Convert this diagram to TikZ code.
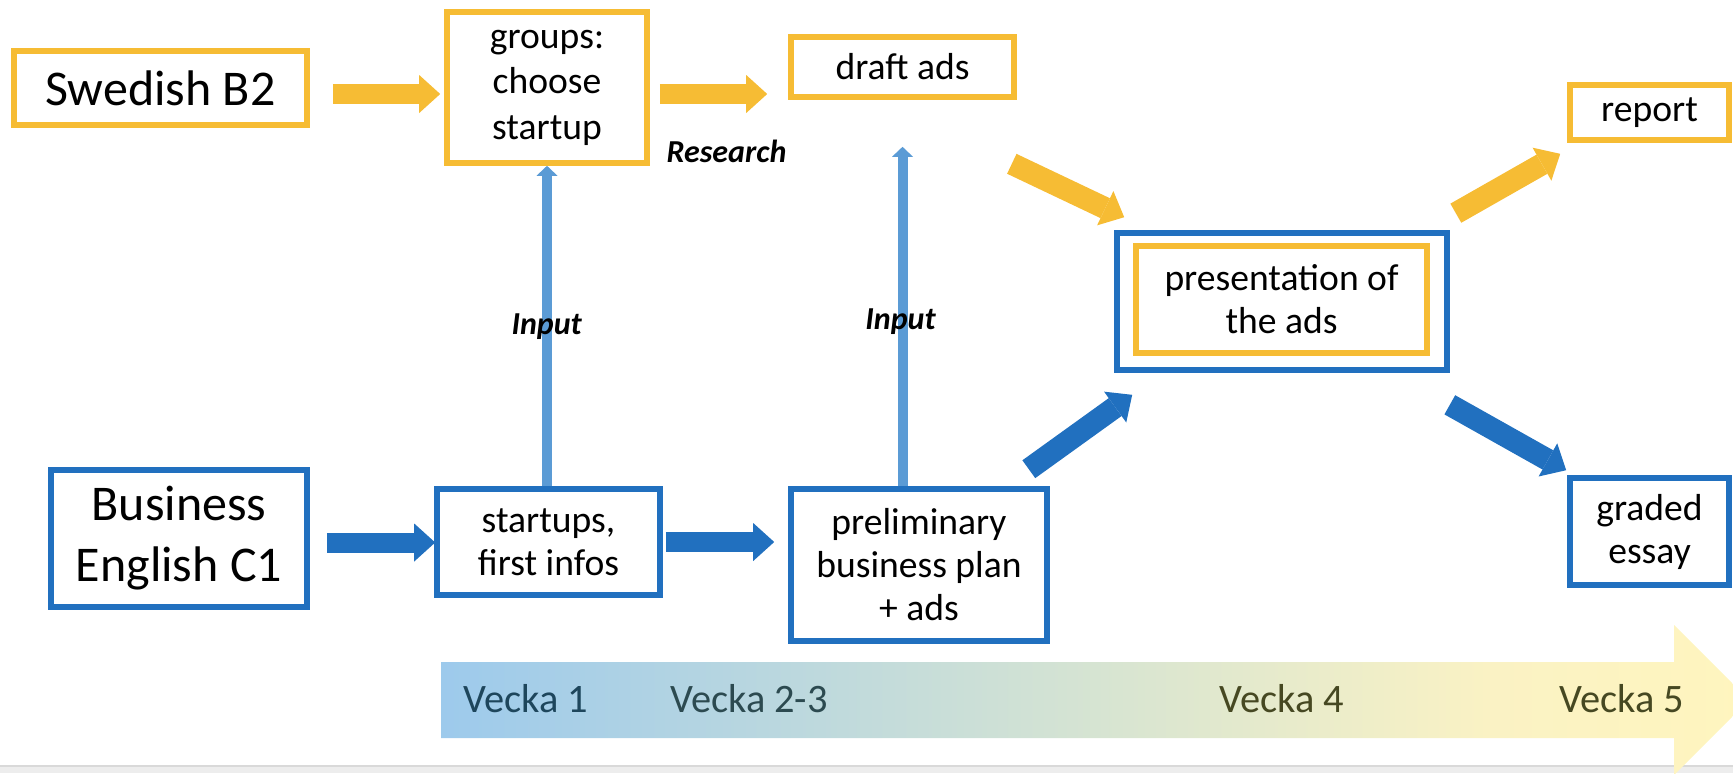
\documentclass[tikz,border=0pt]{standalone}
\usepackage{fontspec}
\setmainfont{Carlito}
\usetikzlibrary{arrows.meta}

\definecolor{gold}{RGB}{246,188,52}
\definecolor{boxblue}{RGB}{33,112,191}
\definecolor{inputblue}{RGB}{91,155,213}
\definecolor{tlblue}{RGB}{157,202,236}
\definecolor{tlmid}{RGB}{214,228,210}
\definecolor{tlcream}{RGB}{250,242,196}
\definecolor{tlyellow}{RGB}{255,245,190}
\definecolor{wkteal}{RGB}{30,70,92}
\definecolor{wkslate}{RGB}{44,74,80}
\definecolor{wkolive}{RGB}{70,72,34}
\definecolor{stripgray}{RGB}{237,237,237}

\pgfdeclarehorizontalshading{timeline}{100bp}{color(0bp)=(tlblue); color(25bp)=(tlblue); color(50bp)=(tlmid); color(65bp)=(tlcream); color(75bp)=(tlyellow); color(100bp)=(tlyellow)}

\tikzset{
  box/.style={draw, line width=2.8pt, fill=white, align=center, inner sep=0pt, font=\fontsize{18.8}{21.5}\selectfont},
  goldbox/.style={box, draw=gold},
  bluebox/.style={box, draw=boxblue},
  bigtext/.style={font=\fontsize{25}{30.5}\selectfont},
  fatgold/.style={draw=gold, line width=10pt, -{Triangle[width=19pt,length=10.5pt,line width=0pt]}},
  fatblue/.style={draw=boxblue, line width=10pt, -{Triangle[width=19pt,length=10.5pt,line width=0pt]}},
  inputline/.style={draw=inputblue, line width=5pt, -{Triangle[width=10.5pt,length=5pt,line width=0pt]}},
  note/.style={font=\fontsize{16}{19}\selectfont\bfseries\itshape, inner sep=0pt, anchor=base},
  week/.style={font=\fontsize{20.2}{24}\selectfont, inner sep=0pt, anchor=base}
}

\begin{document}
\begin{tikzpicture}[x=0.5pt,y=-0.5pt]
\useasboundingbox (0,0) rectangle (1733,773);

%Shape: Strip
\fill[stripgray] (0,766) rectangle (1733,773);
\draw[black!15, line width=0.6pt] (0,766) -- (1733,766);

%Shape: Right Arrow (timeline)
\shade[shading=timeline] (441,662) -- (1674,662) -- (1674,625) -- (1749,700) -- (1674,775) -- (1674,738) -- (441,738) -- cycle;

%Shape: Rectangle
\draw (160.5,88) node [goldbox, bigtext, minimum width=146.5pt, minimum height=37pt] (swe) {Swedish B2};
%Shape: Rectangle
\draw (547,87.5) node [goldbox, font=\fontsize{18.8}{22.8}\selectfont, minimum width=100pt, minimum height=75.5pt] (grp) {groups:\\choose\\startup};
%Shape: Rectangle
\draw (902.5,67) node [goldbox, minimum width=111.5pt, minimum height=30pt] (draft) {draft ads};
%Shape: Rectangle
\draw (1649.5,112.5) node [goldbox, minimum width=79.5pt, minimum height=27.5pt] (report) {report};

%Shape: Rectangle
\draw (1282,301.5) node [bluebox, minimum width=165pt, minimum height=68.5pt] (presout) {};
%Shape: Rectangle
\draw (1281.5,299.5) node [goldbox, minimum width=145.5pt, minimum height=53.5pt] (pres) {presentation of\\the ads};

%Shape: Rectangle
\draw (179,538.5) node [bluebox, bigtext, minimum width=128pt, minimum height=68.5pt] (bus) {Business\\English C1};
%Shape: Rectangle
\draw (548.5,542) node [bluebox, minimum width=111.5pt, minimum height=53pt] (start) {startups,\\first infos};
%Shape: Rectangle
\draw (919,565) node [bluebox, minimum width=128pt, minimum height=76pt] (prelim) {preliminary\\business plan\\+ ads};
%Shape: Rectangle
\draw (1649.5,531.5) node [bluebox, minimum width=79.5pt, minimum height=53.5pt] (essay) {graded\\essay};

%Right Arrows
\draw [fatgold] ([shift={(23,6)}]swe.east) -- ([shift={(-4,6.5)}]grp.west);
\draw [fatgold] ([shift={(10,6.5)}]grp.east) -- ([shift={(-21,27)}]draft.west);
\draw [fatblue] ([shift={(17,4)}]bus.east) -- ([shift={(1,0.5)}]start.west);
\draw [fatblue] ([shift={(3,0)}]start.east) -- ([shift={(-14,-23)}]prelim.west);

%Diagonal Arrows
\draw [fatgold, line width=11pt] ([shift={(-5,64)}]draft.south east) -- ([shift={(10,-13)}]presout.north west);
\draw [fatgold, line width=11pt] ([shift={(6,-17)}]presout.north east) -- ([shift={(-7,11)}]report.south west);
\draw [fatblue, line width=11pt] ([shift={(-21,-17)}]prelim.north east) -- ([shift={(18,22)}]presout.south west);
\draw [fatblue, line width=11pt] ([shift={(0,32)}]presout.south east) -- ([shift={(-1,-5)}]essay.north west);

%Straight Lines
\draw [inputline] (start.north -| grp.south) -- (grp.south);
\draw [inputline] (prelim.north -| draft.south) -- ([yshift=-23.5pt]draft.south);

% Text Node
\draw (726.5,162) node [note] (research) {Research};
% Text Node
\draw (546.7,334) node [note] (inputa) {Input};
% Text Node
\draw (900.5,329) node [note] (inputb) {Input};

% Text Node
\draw (526,712) node [week, text=wkteal] (w1) {Vecka 1};
% Text Node
\draw (749,712) node [week, text=wkslate] (w23) {Vecka 2-3};
% Text Node
\draw (1282,712) node [week, text=wkolive] (w4) {Vecka 4};
% Text Node
\draw (1622,712) node [week, text=wkolive] (w5) {Vecka 5};

\end{tikzpicture}
\end{document}
